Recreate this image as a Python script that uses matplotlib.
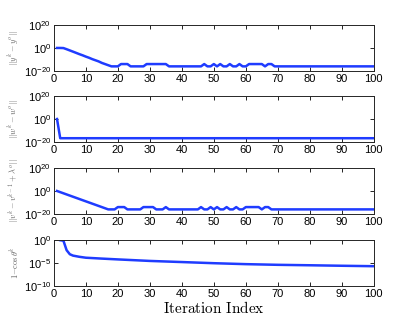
import matplotlib
matplotlib.use('Agg')
import matplotlib.pyplot as plt
from matplotlib.ticker import NullLocator

plt.rcParams['font.family'] = ['Liberation Sans', 'DejaVu Sans']

# iteration index 1..100
iters = list(range(1, 101))
L = 1e-16   # plateau level
H = 1e-14   # small bumps

# ||y^k - y^o||
y_err = ([1e0, 1e0, 8e-1, 8e-2, 7e-3, 6e-4, 5e-5, 4e-6, 4e-7, 3e-8, 3e-9,
          2e-10, 2e-11, 2e-12, 1e-13, 1e-14, 1e-15, 1e-16]
         + [L]*2 + [H]*3 + [L]*5 + [H]*7 + [L]*11 + [H] + [L]*2 + [H] + [L]
         + [H] + [L]*2 + [H] + [L]*2 + [H] + [L]*2 + [H]*5 + [L] + [H]*2
         + [L]*32)

# ||w^k - w^o||
w_err = [1e0] + [2e-17]*99

# ||v^k - v^{k-1} + lambda^o||
v_err = ([1e0, 1e-1, 1e-2, 1e-3, 1e-4, 1e-5, 1e-6, 1e-7, 1e-8, 1e-9, 1e-10,
          1e-11, 1e-12, 1e-13, 1e-14, 1e-15, 1e-16]
         + [L]*2 + [H]*3 + [L]*5 + [H]*4 + [L]*3 + [H] + [L]*10 + [H] + [L]*2
         + [H] + [L] + [H] + [L]*2 + [H] + [L]*2 + [H] + [L]*2 + [H]*5 + [L]
         + [H]*2 + [L]*33)

# 1 - cos(theta^k)
cos_x = [2, 3, 4, 5, 6, 8, 10, 15, 20, 30, 40, 50, 60, 70, 80, 90, 100]
cos_err = [0.9, 0.7, 6e-3, 8e-4, 4e-4, 2.2e-4, 1.4e-4, 9e-5, 6e-5, 2.8e-5,
           1.6e-5, 9e-6, 5.6e-6, 4e-6, 3.2e-6, 2.5e-6, 2e-6]

ylabels = [r'$||y^k-y^o||$', r'$||w^k-w^o||$',
           r'$||v^k-v^{k-1}+\lambda^o||$', r'$1\mathrm{-}\cos\theta^k$']

blue = '#1f3cff'
fig = plt.figure(figsize=(4.14, 3.27), dpi=100)
bottoms = [0.783, 0.5657, 0.3456, 0.1254]
series = [(iters, y_err), (iters, w_err), (iters, v_err), (cos_x, cos_err)]

for i, (b, (xs, ys)) in enumerate(zip(bottoms, series)):
    ax = fig.add_axes([0.130, b, 0.773, 0.1407])
    ax.plot(xs, ys, color=blue, lw=1.8)
    ax.set_yscale('log')
    ax.set_xlim(0, 100)
    if i < 3:
        ax.set_ylim(1e-20, 1e20)
        ax.set_yticks([1e-20, 1e0, 1e20])
    else:
        ax.set_ylim(1e-10, 1e0)
        ax.set_yticks([1e-10, 1e-5, 1e0])
    ax.yaxis.set_minor_locator(NullLocator())
    ax.set_xticks(range(0, 101, 10))
    ax.tick_params(direction='in', length=3, width=0.6, labelsize=8,
                   top=True, right=True, pad=2)
    for s in ax.spines.values():
        s.set_linewidth(0.7)
        s.set_color('0.15')
    ax.set_ylabel(ylabels[i], fontsize=6, color='0.4', math_fontfamily='cm',
                  labelpad=2)

ax.set_xlabel(r'$\mathrm{Iteration\ Index}$', fontsize=11, math_fontfamily='cm',
              labelpad=1)

fig.savefig('out.png', dpi=100)
